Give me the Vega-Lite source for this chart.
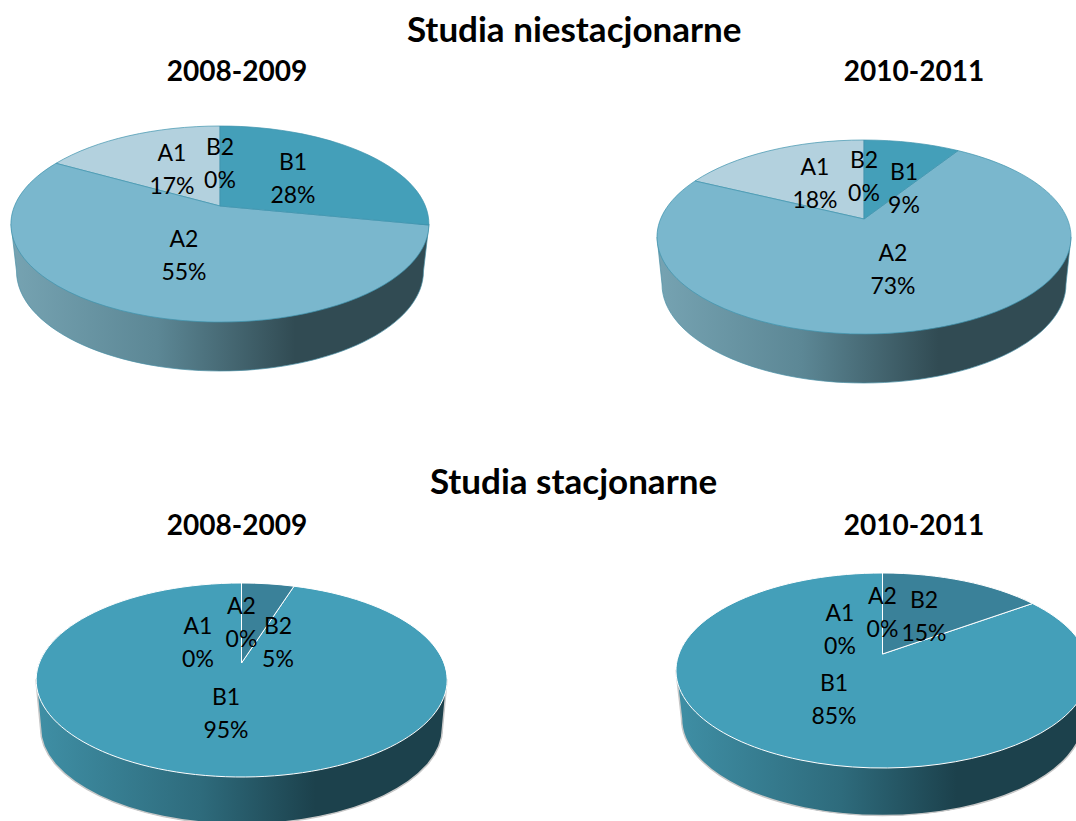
{"$schema":"https://vega.github.io/schema/vega-lite/v6.json","padding":{"top":13,"left":0,"right":0,"bottom":0},"autosize":{"type":"pad"},"background":"white","bounds":"flush","spacing":450,"resolve":{"scale":{"shape":"independent"}},"config":{"view":{"stroke":null},"title":{"font":"Lato","fontWeight":"bold","color":"black","fontSize":28,"anchor":"middle"},"text":{"font":"Lato","fontSize":23,"color":"black","lineBreak":"\n","lineHeight":33,"align":"center","baseline":"middle"},"point":{"filled":true,"opacity":1,"size":4}},
"datasets":{"body":[{"part":"side"}],
"p1":[{"slice":"A1","share":17,"caption":"A1\n17%"},{"slice":"A2","share":55,"caption":"A2\n55%"},{"slice":"B1","share":28,"caption":"B1\n28%"},{"slice":"B2","share":0,"caption":"B2\n0%"}],
"p2":[{"slice":"A1","share":18,"caption":"A1\n18%"},{"slice":"A2","share":73,"caption":"A2\n73%"},{"slice":"B1","share":9,"caption":"B1\n9%"},{"slice":"B2","share":0,"caption":"B2\n0%"}],
"p3":[{"slice":"A1","share":0,"caption":"A1\n0%"},{"slice":"A2","share":0,"caption":"A2\n0%"},{"slice":"B1","share":95,"caption":"B1\n95%"},{"slice":"B2","share":5,"caption":"B2\n5%"}],
"p4":[{"slice":"A1","share":0,"caption":"A1\n0%"},{"slice":"A2","share":0,"caption":"A2\n0%"},{"slice":"B1","share":85,"caption":"B1\n85%"},{"slice":"B2","share":15,"caption":"B2\n15%"}]},
"vconcat":[
{"title":{"text":"Studia niestacjonarne","fontSize":35,"dx":38,"offset":10.5},"bounds":"flush","spacing":240,"resolve":{"scale":{"shape":"independent"}},"hconcat":[
{"width":440,"height":266,"title":{"text":"2008-2009","dx":17,"offset":4},"layer":[
{"data":{"name":"body"},"mark":{"type":"point","shape":"M-209 0L-203.5 47A203.5 100 0 0 0 203.5 47L209 0Z","fill":{"gradient":"linear","x1":0,"y1":0,"x2":1,"y2":0,"stops":[{"offset":0,"color":"#76a3b2"},{"offset":0.35,"color":"#5c8795"},{"offset":0.68,"color":"#314b53"},{"offset":1,"color":"#314b53"}]},"stroke":"#4a8fa5","strokeWidth":0.7},"encoding":{}},
{"data":{"name":"p1"},"transform":[{"filter":"datum.share>0"}],"mark":{"type":"point","stroke":"#3f93ad","strokeWidth":0.7},"encoding":{"color":{"field":"slice","legend":null,"scale":{"domain":["A1","A2","B1","B2"],"range":["#b3d1de","#7ab7cd","#449fb9","#3a8199"]}},"shape":{"field":"slice","legend":null,"scale":{"domain":["A1","A2","B1"],"range":["M0 -18L-164 -60.7A209 98 0 0 1 0 -98Z","M0 -18L208.9 1A209 98 0 1 1 -164 -60.7Z","M0 -18L0 -98A209 98 0 0 1 208.9 1Z"]}}}},
{"data":{"name":"p1"},"transform":[{"filter":"datum.slice=='A1'"}],"mark":{"type":"text","dx":-48,"dy":-70.5},"encoding":{"text":{"field":"caption"}}},
{"data":{"name":"p1"},"transform":[{"filter":"datum.slice=='B2'"}],"mark":{"type":"text","dx":0,"dy":-76.5},"encoding":{"text":{"field":"caption"}}},
{"data":{"name":"p1"},"transform":[{"filter":"datum.slice=='B1'"}],"mark":{"type":"text","dx":73,"dy":-61.5},"encoding":{"text":{"field":"caption"}}},
{"data":{"name":"p1"},"transform":[{"filter":"datum.slice=='A2'"}],"mark":{"type":"text","dx":-36,"dy":15.5},"encoding":{"text":{"field":"caption"}}}
]},
{"width":368,"height":292,"title":{"text":"2010-2011","dx":50,"offset":4},"layer":[
{"data":{"name":"body"},"mark":{"type":"point","shape":"M-207 0L-202 47A202 99 0 0 0 202 47L207 0Z","fill":{"gradient":"linear","x1":0,"y1":0,"x2":1,"y2":0,"stops":[{"offset":0,"color":"#76a3b2"},{"offset":0.35,"color":"#5c8795"},{"offset":0.68,"color":"#314b53"},{"offset":1,"color":"#314b53"}]},"stroke":"#4a8fa5","strokeWidth":0.7},"encoding":{}},
{"data":{"name":"p2"},"transform":[{"filter":"datum.share>0"}],"mark":{"type":"point","stroke":"#3f93ad","strokeWidth":0.7},"encoding":{"color":{"field":"slice","legend":null,"scale":{"domain":["A1","A2","B1","B2"],"range":["#b3d1de","#7ab7cd","#449fb9","#3a8199"]}},"shape":{"field":"slice","legend":null,"scale":{"domain":["A1","A2","B1"],"range":["M0 -18L-169 -56A207 97 0 0 1 0 -97Z","M0 -18L94 -86.4A207 97 0 1 1 -169 -56Z","M0 -18L0 -97A207 97 0 0 1 94 -86.4Z"]}}}},
{"data":{"name":"p2"},"transform":[{"filter":"datum.slice=='A1'"}],"mark":{"type":"text","dx":-49,"dy":-69.5},"encoding":{"text":{"field":"caption"}}},
{"data":{"name":"p2"},"transform":[{"filter":"datum.slice=='B2'"}],"mark":{"type":"text","dx":0,"dy":-76.5},"encoding":{"text":{"field":"caption"}}},
{"data":{"name":"p2"},"transform":[{"filter":"datum.slice=='B1'"}],"mark":{"type":"text","dx":40,"dy":-64.5},"encoding":{"text":{"field":"caption"}}},
{"data":{"name":"p2"},"transform":[{"filter":"datum.slice=='A2'"}],"mark":{"type":"text","dx":29,"dy":16.5},"encoding":{"text":{"field":"caption"}}}
]}]},
{"title":{"text":"Studia stacjonarne","fontSize":35,"dx":27.5,"offset":11.5},"bounds":"flush","spacing":217,"resolve":{"scale":{"shape":"independent"}},"hconcat":[
{"width":483,"height":278,"title":{"text":"2008-2009","dx":-4.5,"offset":0.5},"layer":[
{"data":{"name":"body"},"mark":{"type":"point","shape":"M-205.5 0L-201 48A201 96 0 0 0 201 48L205.5 0Z","fill":{"gradient":"linear","x1":0,"y1":0,"x2":1,"y2":0,"stops":[{"offset":0,"color":"#3f8fa5"},{"offset":0.4,"color":"#2e6b7c"},{"offset":0.68,"color":"#1c414c"},{"offset":1,"color":"#1c414c"}]},"stroke":"#c8c8c8","strokeWidth":1.5},"encoding":{}},
{"data":{"name":"p3"},"transform":[{"filter":"datum.share>0"}],"mark":{"type":"point","stroke":"white","strokeWidth":1},"encoding":{"color":{"field":"slice","legend":null,"scale":{"domain":["A1","A2","B1","B2"],"range":["#b3d1de","#7ab7cd","#449fb9","#3a8199"]}},"shape":{"field":"slice","legend":null,"scale":{"domain":["B1","B2"],"range":["M0 -17L52.5 -93.8A205.5 97 0 1 1 0 -97Z","M0 -17L0 -97A205.5 97 0 0 1 52.5 -93.8Z"]}}}},
{"data":{"name":"p3"},"transform":[{"filter":"datum.slice=='A1'"}],"mark":{"type":"text","dx":-43.5,"dy":-53.5},"encoding":{"text":{"field":"caption"}}},
{"data":{"name":"p3"},"transform":[{"filter":"datum.slice=='A2'"}],"mark":{"type":"text","dx":0,"dy":-73.5},"encoding":{"text":{"field":"caption"}}},
{"data":{"name":"p3"},"transform":[{"filter":"datum.slice=='B2'"}],"mark":{"type":"text","dx":36.5,"dy":-53.5},"encoding":{"text":{"field":"caption"}}},
{"data":{"name":"p3"},"transform":[{"filter":"datum.slice=='B1'"}],"mark":{"type":"text","dx":-15.5,"dy":17.5},"encoding":{"text":{"field":"caption"}}}
]},
{"width":365,"height":259,"title":{"text":"2010-2011","dx":31.5,"offset":0.5},"layer":[
{"data":{"name":"body"},"mark":{"type":"point","shape":"M-206.5 0L-201 48A201 97 0 0 0 201 48L206.5 0Z","fill":{"gradient":"linear","x1":0,"y1":0,"x2":1,"y2":0,"stops":[{"offset":0,"color":"#3f8fa5"},{"offset":0.4,"color":"#2e6b7c"},{"offset":0.68,"color":"#1c414c"},{"offset":1,"color":"#1c414c"}]},"stroke":"#c8c8c8","strokeWidth":1.5},"encoding":{}},
{"data":{"name":"p4"},"transform":[{"filter":"datum.share>0"}],"mark":{"type":"point","stroke":"white","strokeWidth":1},"encoding":{"color":{"field":"slice","legend":null,"scale":{"domain":["A1","A2","B1","B2"],"range":["#b3d1de","#7ab7cd","#449fb9","#3a8199"]}},"shape":{"field":"slice","legend":null,"scale":{"domain":["B1","B2"],"range":["M0 -16.5L150 -67A206.5 97.5 0 1 1 0 -97.5Z","M0 -16.5L0 -97.5A206.5 97.5 0 0 1 150 -67Z"]}}}},
{"data":{"name":"p4"},"transform":[{"filter":"datum.slice=='A1'"}],"mark":{"type":"text","dx":-42.5,"dy":-57},"encoding":{"text":{"field":"caption"}}},
{"data":{"name":"p4"},"transform":[{"filter":"datum.slice=='A2'"}],"mark":{"type":"text","dx":0,"dy":-74},"encoding":{"text":{"field":"caption"}}},
{"data":{"name":"p4"},"transform":[{"filter":"datum.slice=='B2'"}],"mark":{"type":"text","dx":41.5,"dy":-70},"encoding":{"text":{"field":"caption"}}},
{"data":{"name":"p4"},"transform":[{"filter":"datum.slice=='B1'"}],"mark":{"type":"text","dx":-48.5,"dy":13.5},"encoding":{"text":{"field":"caption"}}}
]}]}
]}
